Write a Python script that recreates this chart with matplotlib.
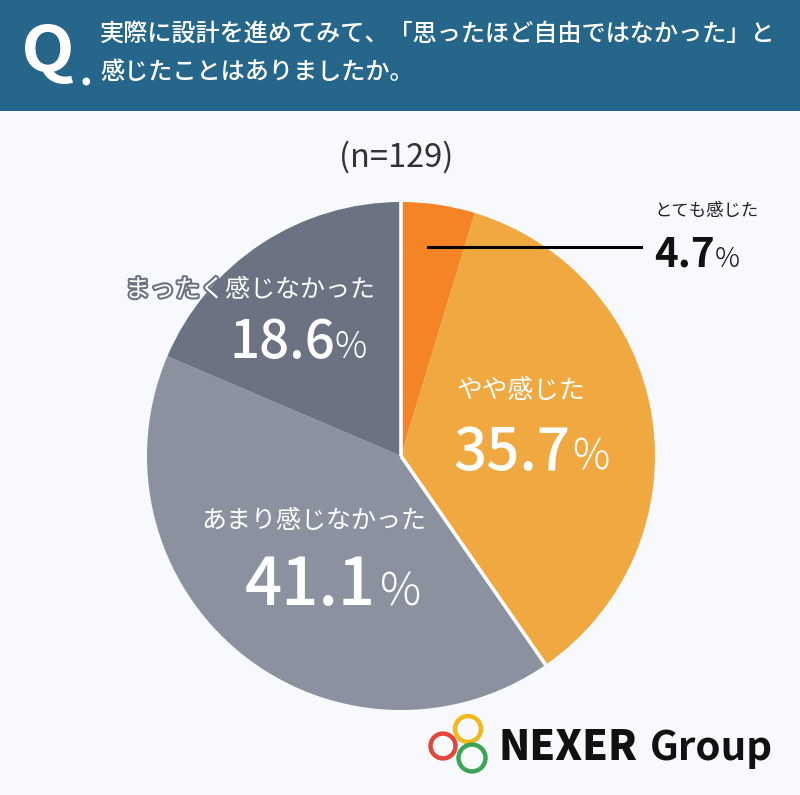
import matplotlib
matplotlib.use('Agg')
import matplotlib.pyplot as plt
import matplotlib.patheffects as pe
from matplotlib.patches import Rectangle, Circle, PathPatch
from matplotlib.textpath import TextPath
from matplotlib.font_manager import FontProperties
from matplotlib.transforms import Affine2D
import numpy as np

plt.rcParams['font.family'] = ['Noto Sans CJK JP', 'DejaVu Sans']

# data
labels = ['とても感じた', 'やや感じた', 'あまり感じなかった', 'まったく感じなかった']
values = [4.7, 35.7, 41.1, 18.6]
colors = ['#f58426', '#f0a941', '#8b919f', '#6b7282']
title_lines = ['実際に設計を進めてみて、「思ったほど自由ではなかった」と', '感じたことはありましたか。']
n_text = '(n=129)'

W, H = 800, 795
BG = '#f7f9fc'
HEADER = '#25668a'

fig = plt.figure(figsize=(W / 100, H / 100), dpi=100)
fig.patch.set_facecolor(BG)


def fx(x):
    return x / W


def fy(y):
    return 1 - y / H


# header band
fig.patches.append(Rectangle((0, fy(111)), 1, 111 / H, transform=fig.transFigure,
                             facecolor=HEADER, edgecolor='none', zorder=0))

# narrow "Q" mark, drawn as a scaled text path (pixel units)
qpath = TextPath((0, 0), 'Q', size=80, prop=FontProperties(family='Noto Sans CJK JP', weight='bold'))
qb = qpath.get_extents()
sy = 60 / qb.height
sx = 48 / qb.width
fig.patches.append(PathPatch(qpath, transform=Affine2D().translate(-qb.x0, -qb.y0)
                             .scale(sx, sy).translate(25, H - 84) + Affine2D().scale(1 / W, 1 / H)
                             + fig.transFigure, facecolor='white', edgecolor='none'))
fig.text(fx(80), fy(86), '.', color='white', fontsize=26, fontweight='black',
         ha='left', va='baseline')

fig.text(fx(100), fy(34), title_lines[0], color='white', fontsize=17.4,
         fontweight='medium', ha='left', va='center')
fig.text(fx(100), fy(72), title_lines[1], color='white', fontsize=17.4,
         fontweight='medium', ha='left', va='center')

fig.text(fx(396), fy(157), n_text, color='#333333', fontsize=23.5,
         ha='center', va='center')

# pie: center (401, 456), radius 254 px
R = 254
cx, cy = 401, 456
ax = fig.add_axes([fx(cx - R), fy(cy + R), 2 * R / W, 2 * R / H])
ax.set_facecolor('none')
wedges, _ = ax.pie(values, colors=colors, startangle=90, counterclock=False,
                   wedgeprops=dict(linewidth=0))
ax.set_xlim(-1, 1)
ax.set_ylim(-1, 1)
ax.set_aspect('equal')
ax.axis('off')

# white gaps between the "felt" and "did not feel" groups
for ang in [wedges[0].theta2, wedges[1].theta1]:
    a = np.deg2rad(ang)
    ax.plot([0, np.cos(a)], [0, np.sin(a)], color='white', lw=2.6,
            solid_capstyle='butt', zorder=5)

# leader line for the small slice
ax.plot([0.106, 0.945], [0.823, 0.823], color='black', lw=2.2, zorder=6,
        clip_on=False)


def pct(x_split, base, num, size_n, size_p, color, weight='medium', gap=2,
        effects=None):
    fig.text(fx(x_split), fy(base), num, color=color, fontsize=size_n,
             fontweight=weight, ha='right', va='baseline', path_effects=effects)
    fig.text(fx(x_split + gap), fy(base), '%', color=color, fontsize=size_p,
             fontweight='light', ha='left', va='baseline', path_effects=effects)


# labels
fig.text(fx(655), fy(211), labels[0], color='#222222', fontsize=12.5,
         ha='left', va='center')
pct(715, 267, f'{values[0]}', 29, 20, '#111111', weight='bold', gap=0)

fig.text(fx(521), fy(391), labels[1], color='white', fontsize=18.5,
         ha='center', va='center')
pct(570, 470, f'{values[1]}', 42, 30, 'white', gap=2)

fig.text(fx(314), fy(521), labels[2], color='white', fontsize=18,
         ha='center', va='center')
pct(376, 605, f'{values[2]}', 47, 33, 'white', gap=4)

outline = [pe.withStroke(linewidth=3, foreground='#6b7282')]
fig.text(fx(250), fy(290), labels[3], color='white', fontsize=18,
         ha='center', va='center', path_effects=outline)
pct(335, 358, f'{values[3]}', 38, 26, 'white', gap=0)

# NEXER Group logo
for (x, y, r, c) in [(468, 729, 13, '#f2b81b'), (443, 746, 12.5, '#e2453c'),
                     (472, 758, 13.5, '#3aa655')]:
    fig.patches.append(Circle((fx(x), fy(y)), r / W, transform=fig.transFigure,
                              facecolor='none', edgecolor=c, lw=3.2))
fig.text(fx(499), fy(760), 'NEXER', color='#111111', fontsize=29.5,
         fontweight='black', ha='left', va='baseline')
fig.text(fx(650), fy(760), 'Group', color='#111111', fontsize=29,
         fontweight='bold', ha='left', va='baseline')

fig.savefig('out.png', dpi=100, facecolor=BG)
